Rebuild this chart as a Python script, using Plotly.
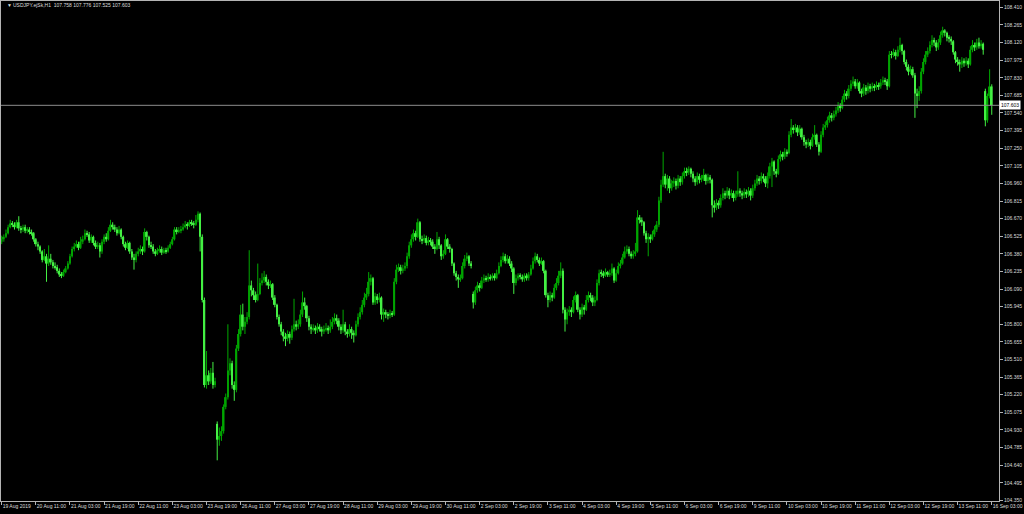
import plotly.graph_objects as go

# USDJPY H1 bars, 19 Aug 2019 19:00 .. 16 Sep 2019 03:00
closes = [
    # 19 Aug
    106.50, 106.52, 106.55, 106.60, 106.63,
    # 20 Aug
    106.62, 106.60, 106.64, 106.59, 106.58, 106.60, 106.57, 106.58, 106.56, 106.55,
    106.50, 106.46, 106.44, 106.40, 106.33, 106.36, 106.30, 106.34, 106.31, 106.28,
    106.27, 106.24, 106.21, 106.20,
    # 21 Aug
    106.23, 106.26, 106.30, 106.36, 106.42, 106.44, 106.46, 106.43, 106.48, 106.50,
    106.55, 106.54, 106.49, 106.52, 106.47, 106.44, 106.45, 106.40, 106.48, 106.52,
    106.50, 106.57, 106.62, 106.60,
    # 22 Aug
    106.58, 106.55, 106.58, 106.52, 106.46, 106.43, 106.47, 106.40, 106.35, 106.33,
    106.38, 106.40, 106.42, 106.40, 106.56, 106.52, 106.45, 106.44, 106.40, 106.38,
    106.41, 106.42, 106.39, 106.41,
    # 23 Aug
    106.40, 106.43, 106.46, 106.50, 106.58, 106.56, 106.57, 106.58, 106.60, 106.62,
    106.61, 106.64, 106.63, 106.62, 106.66, 106.71, 106.52, 106.00, 105.30, 105.38,
    105.33, 105.40, 105.30, 105.33,
    # 26 Aug
    104.85, 104.88, 104.92, 105.12, 105.20, 105.42, 105.48, 105.30, 105.26, 105.60,
    105.72, 105.88, 105.78, 105.82, 105.86, 106.12, 106.08, 106.04, 106.00, 106.05,
    106.14, 106.16, 106.19, 106.15,
    # 27 Aug
    106.12, 106.13, 106.02, 105.96, 105.86, 105.80, 105.74, 105.70, 105.68, 105.72,
    105.69, 105.76, 105.80, 105.78, 105.80, 105.88, 105.98, 105.95, 105.85, 105.78,
    105.76, 105.77, 105.75, 105.78,
    # 28 Aug
    105.76, 105.74, 105.76, 105.77, 105.75, 105.78, 105.82, 105.85, 105.83, 105.78,
    105.75, 105.80, 105.74, 105.72, 105.76, 105.73, 105.71, 105.80, 105.86, 105.90,
    105.96, 106.02, 106.05, 106.15,
    # 29 Aug
    106.18, 105.98, 106.03, 106.00, 106.02, 105.88, 105.90, 105.88, 105.87, 105.89,
    105.88, 106.15, 106.25, 106.27, 106.24, 106.26, 106.28, 106.36, 106.45, 106.50,
    106.55, 106.52, 106.64, 106.50,
    # 30 Aug
    106.49, 106.51, 106.47, 106.49, 106.48, 106.44, 106.42, 106.50, 106.45, 106.36,
    106.38, 106.50, 106.44, 106.42, 106.30, 106.22, 106.19, 106.17, 106.18, 106.28,
    106.34, 106.36, 106.30, 106.28,
    # 2 Sep
    105.98, 106.08, 106.12, 106.10, 106.16, 106.18, 106.17, 106.19, 106.18, 106.20,
    106.18, 106.22, 106.28, 106.33, 106.36, 106.32, 106.34, 106.30, 106.26, 106.14,
    106.18, 106.20, 106.19, 106.17,
    # 3 Sep
    106.20, 106.18, 106.21, 106.26, 106.32, 106.36, 106.33, 106.30, 106.32, 106.24,
    106.04, 106.00, 106.04, 106.02, 106.10, 106.14, 106.20, 106.24, 105.92, 105.84,
    105.90, 105.92, 105.90, 106.00,
    # 4 Sep
    106.04, 105.92, 105.88, 105.94, 105.92, 106.00, 106.04, 106.02, 105.98, 106.00,
    106.14, 106.22, 106.22, 106.20, 106.23, 106.21, 106.22, 106.26, 106.16, 106.22,
    106.28, 106.30, 106.35, 106.40,
    # 5 Sep
    106.42, 106.38, 106.36, 106.38, 106.40, 106.68, 106.66, 106.64, 106.55, 106.50,
    106.52, 106.50, 106.54, 106.58, 106.62, 106.82, 106.95, 107.02, 106.95, 107.00,
    106.92, 106.96, 106.98, 106.94,
    # 6 Sep
    107.00, 106.97, 107.02, 107.06, 107.05, 107.08, 107.04, 107.00, 106.97, 107.02,
    106.99, 107.00, 107.03, 106.98, 107.01, 106.99, 106.78, 106.76, 106.80, 106.78,
    106.84, 106.88, 106.86, 106.90,
    # 9 Sep
    106.86, 106.88, 106.84, 106.87, 106.90, 106.88, 106.86, 106.89, 106.87, 106.90,
    106.86, 106.92, 106.96, 107.00, 106.98, 107.02, 107.00, 106.96, 107.02, 107.10,
    107.14, 107.06, 107.04, 107.16,
    # 10 Sep
    107.20, 107.18, 107.22, 107.21, 107.36, 107.42, 107.40, 107.42, 107.38, 107.41,
    107.34, 107.30, 107.28, 107.30, 107.27, 107.34, 107.36, 107.28, 107.22, 107.36,
    107.42, 107.44, 107.48, 107.52,
    # 11 Sep
    107.50, 107.53, 107.56, 107.60, 107.58, 107.65, 107.70, 107.68, 107.74, 107.78,
    107.80, 107.76, 107.79, 107.72, 107.70, 107.75, 107.72, 107.76, 107.74, 107.76,
    107.75, 107.77, 107.76, 107.79,
    # 12 Sep
    107.81, 107.80, 107.76, 108.02, 108.02, 108.04, 108.01, 108.06, 108.10, 108.05,
    107.96, 107.92, 107.88, 107.90, 107.85, 107.70, 107.68, 107.72, 107.88, 107.96,
    108.02, 108.05, 108.10, 108.14,
    # 13 Sep
    108.12, 108.08, 108.12, 108.18, 108.22, 108.20, 108.16, 108.15, 108.13, 108.04,
    107.98, 107.96, 107.94, 107.97, 107.95, 107.97, 107.94, 108.06, 108.10, 108.08,
    108.12, 108.09, 108.11, 108.06,
    # 16 Sep
    107.48, 107.68, 107.758, 107.603,
]

highs = [
    106.53, 106.54, 106.58, 106.62, 106.66,
    106.65, 106.64, 106.66, 106.69, 106.61, 106.62, 106.62, 106.60, 106.60, 106.58,
    106.56, 106.51, 106.48, 106.45, 106.41, 106.42, 106.38, 106.45, 106.38, 106.33,
    106.31, 106.29, 106.26, 106.23,
    106.25, 106.28, 106.32, 106.38, 106.44, 106.47, 106.49, 106.48, 106.52, 106.53,
    106.58, 106.57, 106.56, 106.54, 106.53, 106.49, 106.48, 106.47, 106.50, 106.54,
    106.55, 106.60, 106.66, 106.64,
    106.62, 106.60, 106.61, 106.59, 106.53, 106.48, 106.49, 106.48, 106.42, 106.38,
    106.40, 106.43, 106.45, 106.44, 106.59, 106.57, 106.53, 106.48, 106.46, 106.42,
    106.43, 106.45, 106.44, 106.43,
    106.43, 106.45, 106.48, 106.52, 106.60, 106.60, 106.60, 106.61, 106.63, 106.65,
    106.64, 106.66, 106.66, 106.65, 106.70, 106.73, 106.72, 106.54, 106.02, 105.58,
    105.42, 105.44, 105.49, 105.36,
    105.00, 104.95, 104.96, 105.14, 105.23, 105.80, 105.52, 105.50, 105.33, 105.63,
    105.76, 105.96, 105.97, 105.86, 105.90, 106.41, 106.16, 106.10, 106.07, 106.30,
    106.18, 106.22, 106.24, 106.21,
    106.17, 106.16, 106.14, 106.04, 105.97, 105.88, 105.82, 105.76, 105.73, 105.75,
    105.74, 105.79, 106.01, 105.83, 105.84, 105.92, 106.07, 106.02, 105.96, 105.87,
    105.80, 105.80, 105.79, 105.81,
    105.80, 105.78, 105.79, 105.81, 105.79, 105.84, 105.86, 105.89, 105.88, 105.85,
    105.80, 105.92, 105.82, 105.76, 105.80, 105.78, 105.75, 105.83, 105.89, 105.94,
    106.00, 106.06, 106.10, 106.23,
    106.21, 106.19, 106.06, 106.05, 106.06, 106.03, 105.93, 105.92, 105.90, 105.92,
    105.91, 106.18, 106.29, 106.30, 106.29, 106.29, 106.31, 106.39, 106.48, 106.54,
    106.58, 106.57, 106.67, 106.65,
    106.53, 106.54, 106.53, 106.52, 106.51, 106.50, 106.46, 106.56, 106.52, 106.46,
    106.41, 106.54, 106.51, 106.46, 106.43, 106.31, 106.24, 106.21, 106.21, 106.31,
    106.37, 106.39, 106.37, 106.32,
    106.07, 106.11, 106.15, 106.14, 106.19, 106.21, 106.20, 106.22, 106.21, 106.22,
    106.22, 106.25, 106.31, 106.36, 106.39, 106.38, 106.37, 106.36, 106.32, 106.27,
    106.21, 106.22, 106.22, 106.21,
    106.22, 106.22, 106.23, 106.29, 106.35, 106.39, 106.38, 106.35, 106.35, 106.33,
    106.25, 106.06, 106.07, 106.06, 106.13, 106.18, 106.24, 106.31, 106.26, 105.94,
    105.93, 105.95, 105.94, 106.03,
    106.07, 106.05, 105.94, 105.97, 105.96, 106.04, 106.07, 106.06, 106.04, 106.03,
    106.17, 106.25, 106.25, 106.24, 106.26, 106.24, 106.25, 106.30, 106.27, 106.25,
    106.31, 106.33, 106.38, 106.44,
    106.45, 106.44, 106.40, 106.41, 106.47, 106.74, 106.70, 106.68, 106.65, 106.57,
    106.55, 106.54, 106.57, 106.61, 106.65, 106.85, 106.99, 107.22, 107.04, 107.03,
    107.02, 106.99, 107.01, 107.00,
    107.03, 107.02, 107.05, 107.09, 107.09, 107.10, 107.09, 107.06, 107.02, 107.05,
    107.04, 107.03, 107.08, 107.04, 107.04, 107.03, 107.00, 106.82, 106.83, 106.82,
    106.87, 106.92, 106.90, 106.93,
    106.92, 106.91, 106.90, 106.90, 107.06, 106.92, 106.90, 106.92, 106.91, 106.93,
    106.92, 106.95, 106.99, 107.03, 107.02, 107.05, 107.04, 107.02, 107.05, 107.13,
    107.17, 107.15, 107.08, 107.19,
    107.23, 107.22, 107.25, 107.24, 107.39, 107.49, 107.44, 107.45, 107.44, 107.44,
    107.42, 107.36, 107.32, 107.33, 107.32, 107.37, 107.44, 107.37, 107.30, 107.39,
    107.45, 107.47, 107.51, 107.55,
    107.54, 107.56, 107.59, 107.63, 107.62, 107.68, 107.73, 107.72, 107.77, 107.81,
    107.84, 107.82, 107.82, 107.80, 107.74, 107.78, 107.77, 107.79, 107.78, 107.79,
    107.78, 107.80, 107.79, 107.82,
    107.84, 107.83, 107.82, 108.05, 108.05, 108.07, 108.06, 108.09, 108.16, 108.11,
    108.06, 107.98, 107.94, 107.93, 107.92, 107.87, 107.74, 107.76, 107.91, 107.99,
    108.05, 108.08, 108.13, 108.18,
    108.16, 108.14, 108.15, 108.21, 108.25, 108.23, 108.21, 108.18, 108.17, 108.14,
    108.05, 108.00, 107.98, 108.00, 107.99, 108.00, 107.99, 108.09, 108.14, 108.12,
    108.15, 108.16, 108.14, 108.12,
    107.74, 107.70, 107.90, 107.776,
]

lows = [
    106.46, 106.48, 106.51, 106.54, 106.59,
    106.60, 106.58, 106.59, 106.57, 106.55, 106.56, 106.55, 106.55, 106.54, 106.53,
    106.48, 106.44, 106.41, 106.38, 106.31, 106.32, 106.15, 106.28, 106.29, 106.26,
    106.25, 106.22, 106.19, 106.18,
    106.19, 106.22, 106.25, 106.29, 106.35, 106.40, 106.43, 106.41, 106.42, 106.46,
    106.49, 106.52, 106.47, 106.47, 106.45, 106.42, 106.42, 106.35, 106.38, 106.46,
    106.48, 106.49, 106.56, 106.58,
    106.56, 106.53, 106.54, 106.50, 106.44, 106.41, 106.42, 106.38, 106.33, 106.25,
    106.31, 106.36, 106.38, 106.37, 106.39, 106.49, 106.43, 106.42, 106.38, 106.36,
    106.37, 106.39, 106.37, 106.38,
    106.38, 106.39, 106.42, 106.45, 106.49, 106.54, 106.55, 106.55, 106.57, 106.59,
    106.58, 106.60, 106.61, 106.59, 106.61, 106.64, 106.40, 105.98, 105.28, 105.27,
    105.30, 105.31, 105.27, 105.28,
    104.68, 104.80, 104.84, 104.90, 105.10, 105.18, 105.38, 105.27, 105.17, 105.24,
    105.58, 105.70, 105.75, 105.72, 105.80, 105.84, 106.03, 106.00, 105.98, 105.99,
    106.04, 106.12, 106.14, 106.12,
    106.09, 106.10, 106.00, 105.94, 105.84, 105.78, 105.71, 105.66, 105.62, 105.66,
    105.64, 105.67, 105.74, 105.75, 105.76, 105.78, 105.86, 105.92, 105.82, 105.75,
    105.72, 105.74, 105.72, 105.73,
    105.74, 105.70, 105.72, 105.74, 105.72, 105.73, 105.76, 105.80, 105.80, 105.75,
    105.72, 105.73, 105.71, 105.69, 105.70, 105.68, 105.65, 105.70, 105.78, 105.84,
    105.88, 105.94, 106.00, 106.03,
    106.12, 105.96, 105.96, 105.97, 105.98, 105.84, 105.82, 105.85, 105.84, 105.85,
    105.86, 105.87, 106.13, 106.23, 106.21, 106.22, 106.24, 106.26, 106.34, 106.43,
    106.48, 106.49, 106.51, 106.48,
    106.46, 106.47, 106.45, 106.45, 106.45, 106.42, 106.38, 106.41, 106.42, 106.33,
    106.34, 106.37, 106.42, 106.39, 106.28, 106.20, 106.16, 106.10, 106.15, 106.17,
    106.26, 106.32, 106.28, 106.26,
    105.93, 105.96, 106.06, 106.07, 106.09, 106.14, 106.15, 106.15, 106.16, 106.16,
    106.16, 106.17, 106.21, 106.27, 106.31, 106.30, 106.30, 106.28, 106.23, 106.05,
    106.12, 106.16, 106.17, 106.15,
    106.15, 106.16, 106.16, 106.20, 106.25, 106.30, 106.31, 106.28, 106.29, 106.22,
    106.02, 105.94, 105.98, 105.99, 106.01, 106.08, 106.12, 106.18, 105.89, 105.74,
    105.80, 105.87, 105.86, 105.89,
    105.98, 105.90, 105.84, 105.86, 105.88, 105.91, 105.98, 105.99, 105.95, 105.95,
    105.99, 106.12, 106.19, 106.18, 106.19, 106.19, 106.19, 106.20, 106.14, 106.15,
    106.21, 106.26, 106.29, 106.34,
    106.38, 106.36, 106.34, 106.34, 106.36, 106.39, 106.63, 106.61, 106.53, 106.47,
    106.36, 106.47, 106.49, 106.52, 106.56, 106.60, 106.80, 106.93, 106.92, 106.90,
    106.88, 106.90, 106.93, 106.91,
    106.92, 106.94, 106.95, 107.00, 107.02, 107.03, 107.01, 106.97, 106.94, 106.95,
    106.96, 106.97, 106.98, 106.95, 106.96, 106.96, 106.68, 106.72, 106.74, 106.75,
    106.76, 106.82, 106.83, 106.84,
    106.83, 106.84, 106.81, 106.82, 106.85, 106.85, 106.83, 106.84, 106.84, 106.85,
    106.82, 106.84, 106.90, 106.94, 106.95, 106.96, 106.97, 106.93, 106.92, 107.00,
    106.93, 107.03, 107.01, 107.03,
    107.14, 107.15, 107.16, 107.18, 107.20, 107.34, 107.37, 107.38, 107.35, 107.36,
    107.32, 107.27, 107.25, 107.26, 107.24, 107.26, 107.32, 107.26, 107.19, 107.21,
    107.34, 107.40, 107.42, 107.46,
    107.47, 107.48, 107.51, 107.54, 107.55, 107.57, 107.63, 107.65, 107.66, 107.72,
    107.76, 107.74, 107.74, 107.70, 107.67, 107.68, 107.69, 107.70, 107.71, 107.72,
    107.72, 107.73, 107.73, 107.74,
    107.77, 107.77, 107.73, 107.75, 107.99, 108.00, 107.98, 108.00, 108.04, 108.02,
    107.94, 107.89, 107.85, 107.86, 107.83, 107.50, 107.58, 107.64, 107.70, 107.86,
    107.94, 108.00, 108.03, 108.08,
    108.09, 108.05, 108.06, 108.10, 108.16, 108.17, 108.13, 108.12, 108.10, 108.02,
    107.95, 107.93, 107.88, 107.91, 107.92, 107.93, 107.91, 107.93, 108.04, 108.05,
    108.06, 108.07, 108.07, 108.02,
    107.43, 107.46, 107.66, 107.525,
]

# opens follow the previous close, except where a session opened with a gap
session_opens = {0: 106.48, 101: 104.98, 221: 106.05, 461: 107.72}

price_ticks = [104.350, 104.495, 104.640, 104.785, 104.930, 105.075, 105.220, 105.365,
               105.510, 105.655, 105.800, 105.945, 106.090, 106.235, 106.380, 106.525,
               106.670, 106.815, 106.960, 107.105, 107.250, 107.395, 107.540, 107.685,
               107.830, 107.975, 108.120, 108.265, 108.410]

time_labels = ['19 Aug 2019', '20 Aug 11:00', '21 Aug 03:00', '21 Aug 19:00', '22 Aug 11:00',
               '23 Aug 03:00', '23 Aug 19:00', '26 Aug 11:00', '27 Aug 03:00', '27 Aug 19:00',
               '28 Aug 11:00', '29 Aug 03:00', '29 Aug 19:00', '30 Aug 11:00', '2 Sep 03:00',
               '2 Sep 19:00', '3 Sep 11:00', '4 Sep 03:00', '4 Sep 19:00', '5 Sep 11:00',
               '6 Sep 03:00', '6 Sep 19:00', '9 Sep 11:00', '10 Sep 03:00', '10 Sep 19:00',
               '11 Sep 11:00', '12 Sep 03:00', '12 Sep 19:00', '13 Sep 11:00', '16 Sep 03:00']

bid = 107.603
header = "USDJPY.ejSk,H1  107.758 107.776 107.525 107.603"

opens = []
for i in range(len(closes)):
    if i in session_opens:
        opens.append(session_opens[i])
    else:
        opens.append(closes[i - 1])

bars = list(range(len(closes)))
label_pos = list(range(0, len(closes), 16))

FONT = "Liberation Sans"
FG = "#dcdcdc"
FRAME = "#b4b4b4"
BULL_BODY, BULL_WICK = "#009a00", "#00a800"
BEAR_BODY, BEAR_WICK = "#44f044", "#44f044"

# split bars into bull / bear sets
groups = {"bull": dict(x=[], base=[], h=[], wx=[], wy=[]),
          "bear": dict(x=[], base=[], h=[], wx=[], wy=[])}
for i in bars:
    o, c = opens[i], closes[i]
    g = groups["bull" if c > o else "bear"]
    g["x"].append(i)
    g["base"].append(min(o, c))
    g["h"].append(max(abs(c - o), 0.005))
    g["wx"] += [i, i, None]
    g["wy"] += [lows[i], highs[i], None]

fig = go.Figure()

for name, body, wick in [("bull", BULL_BODY, BULL_WICK), ("bear", BEAR_BODY, BEAR_WICK)]:
    g = groups[name]
    fig.add_trace(go.Scatter(
        x=g["wx"], y=g["wy"], mode="lines",
        line=dict(color=wick, width=1),
        hoverinfo="skip", showlegend=False,
    ))
    fig.add_trace(go.Bar(
        x=g["x"], y=g["h"], base=g["base"], width=0.8,
        marker=dict(color=body, line=dict(width=0)),
        hoverinfo="skip", showlegend=False,
    ))

# current bid line
fig.add_shape(type="line", xref="paper", x0=0, x1=1, yref="y", y0=bid, y1=bid,
              line=dict(color="#8c8c8c", width=1))

fig.update_layout(
    width=1024, height=514,
    margin=dict(l=1, r=25, t=1, b=13),
    paper_bgcolor="black",
    plot_bgcolor="black",
    font=dict(family=FONT, size=5, color=FG),
    showlegend=False,
    barmode="overlay",
    xaxis=dict(
        range=[-0.33, 467.4],
        tickmode="array", tickvals=label_pos, ticktext=time_labels,
        tickangle=0,
        ticks="outside", ticklen=3, tickcolor=FRAME,
        ticklabelposition="outside right",
        tickfont=dict(family=FONT, size=5, color=FG),
        showgrid=False, zeroline=False,
        showline=True, linecolor=FRAME, linewidth=1, mirror=True,
    ),
    yaxis=dict(
        side="right",
        range=[104.345, 108.462],
        tickmode="array", tickvals=price_ticks,
        ticktext=["%.3f" % v for v in price_ticks],
        ticks="outside", ticklen=3, tickcolor=FRAME,
        tickfont=dict(family=FONT, size=5, color=FG),
        showgrid=False, zeroline=False,
        showline=True, linecolor=FRAME, linewidth=1, mirror=True,
    ),
    annotations=[
        dict(xref="paper", yref="paper", x=0.004, y=0.992, xanchor="left", yanchor="middle",
             text="\u25bc", showarrow=False, font=dict(family=FONT, size=5, color=FG)),
        dict(xref="paper", yref="paper", x=0.0098, y=0.992, xanchor="left", yanchor="middle",
             text=header, showarrow=False, font=dict(family=FONT, size=5, color=FG)),
        dict(xref="paper", x=1.0, xanchor="left", y=bid, yref="y", yanchor="middle",
             text="%.3f" % bid, showarrow=False, bgcolor="white", borderpad=1,
             font=dict(family=FONT, size=5, color="black")),
    ],
)

# drop the default page margin so the figure sits flush in the window
fig.write_html("out.html", config={"displayModeBar": False},
               post_script="document.body.style.margin='0';"
                           "document.body.style.background='black';")
